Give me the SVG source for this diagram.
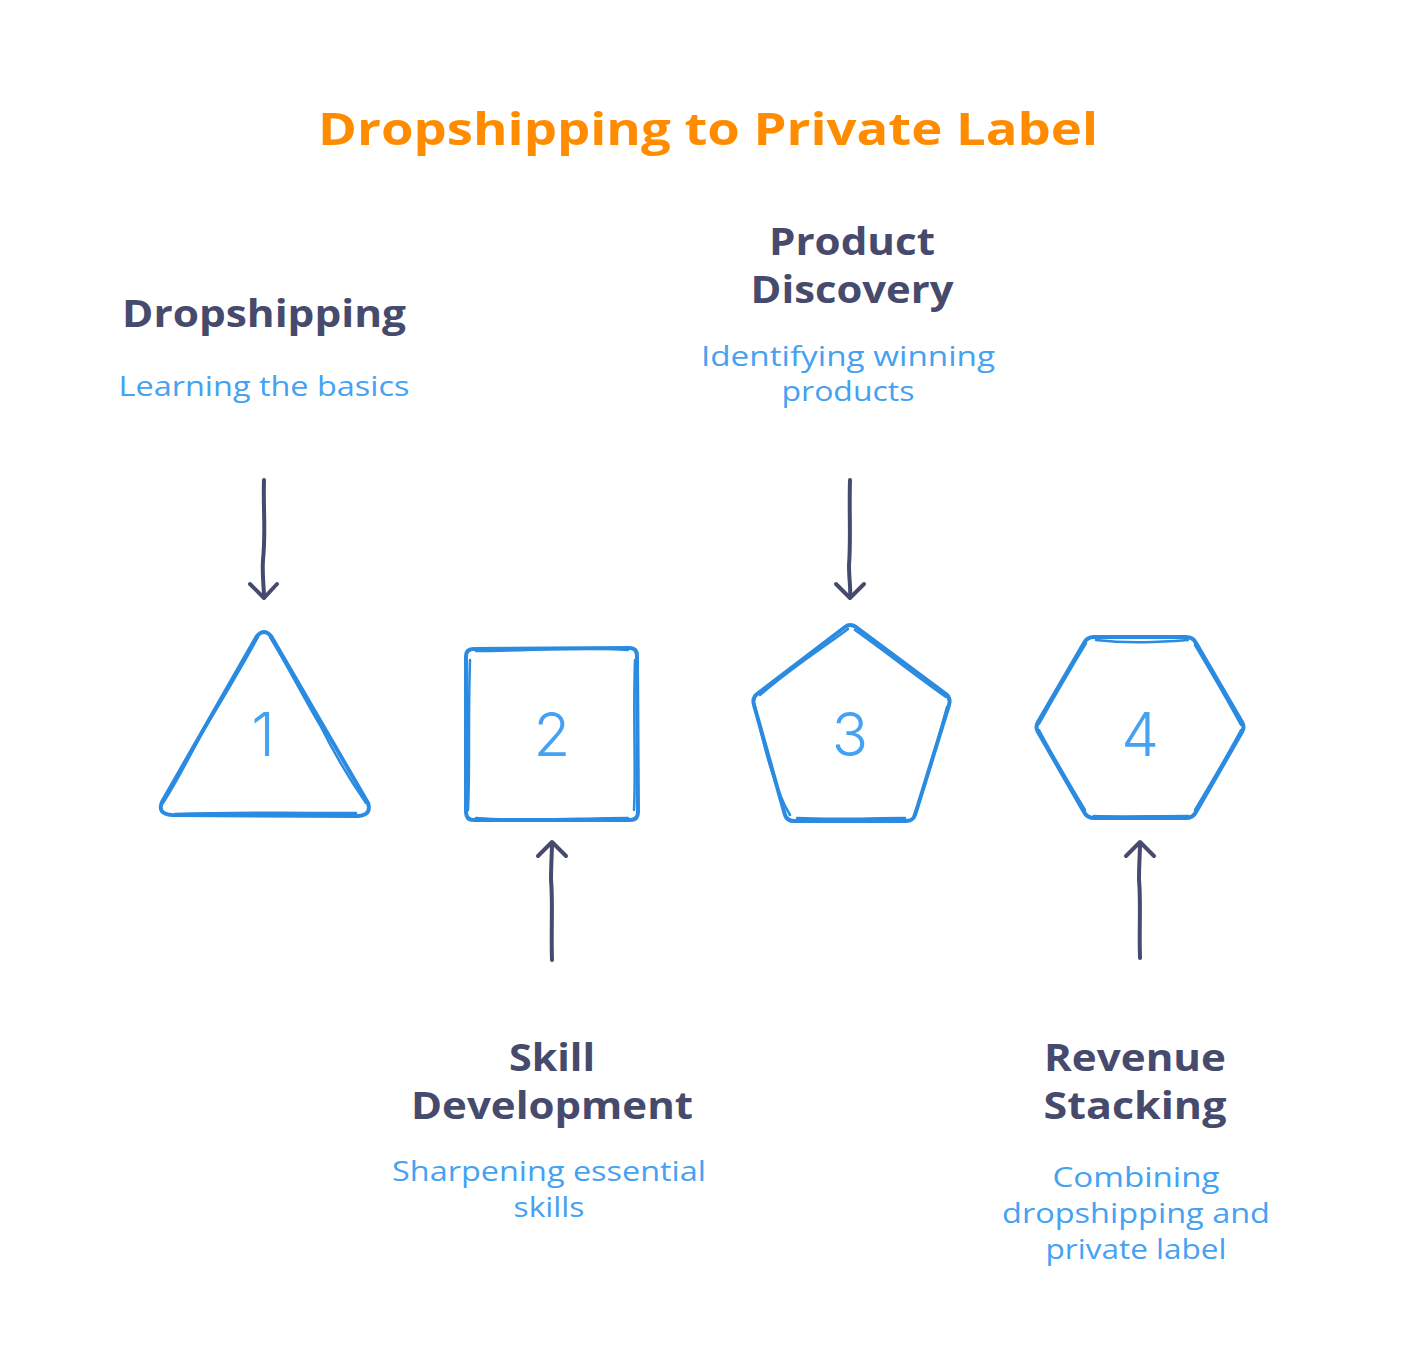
<svg xmlns="http://www.w3.org/2000/svg" width="1416" height="1368" viewBox="0 0 1416 1368">
<defs>
<style>
.title{font-family:"Open Sans","Liberation Sans",sans-serif;font-weight:700;font-size:44px;fill:#FF8C00;text-anchor:middle}
.head{font-family:"Open Sans","Liberation Sans",sans-serif;font-weight:700;font-size:37px;fill:#464A6C;text-anchor:middle}
.desc{font-family:"Open Sans","Liberation Sans",sans-serif;font-weight:400;font-size:28px;fill:#45A1F1;text-anchor:middle}
.num{font-family:"Inter","Open Sans",sans-serif;font-weight:300;font-size:60px;fill:#45A1F1;text-anchor:middle}
.shape{fill:none;stroke:#2A8BE0;stroke-width:4;stroke-linejoin:round;stroke-linecap:round}
.shape2{fill:none;stroke:#2A8BE0;stroke-width:2.5;stroke-linejoin:round;stroke-linecap:round}
.arrow{fill:none;stroke:#464A6C;stroke-width:4;stroke-linecap:round;stroke-linejoin:round}
</style>
</defs>
<rect width="1416" height="1368" fill="#ffffff"/>
<text class="title" x="708" y="145" textLength="780" lengthAdjust="spacingAndGlyphs">Dropshipping to Private Label</text>

<g id="connectors">
<path class="arrow" d="M264,480 C263,510 266,530 263,560 C262,575 264,588 264,597"/>
<path class="arrow" d="M250,584 L264,598 L277,584"/>
<path class="arrow" d="M850,480 C849,510 851,540 849,565 C849,580 851,590 850,597"/>
<path class="arrow" d="M836,584 L850,598 L864,584"/>
<path class="arrow" d="M552,960 C551,930 553,900 551,880 C551,865 552,852 552,843"/>
<path class="arrow" d="M538,856 L552,842 L566,856"/>
<path class="arrow" d="M1140,958 C1139,930 1141,900 1139,880 C1139,865 1140,852 1140,843"/>
<path class="arrow" d="M1126,856 L1140,842 L1154,856"/>
</g>

<g id="node1">
<path class="shape" d="M257,636 Q264,628 271,636 L368,803 Q372,815 358,816 L172,815 Q157,814 162,802 Z"/>
<path class="shape2" d="M258,637 C240,670 225,695 205,728 C190,755 178,780 163,803 M270,637 C290,670 305,700 320,725 C335,755 350,780 366,803 M175,814 C240,812 300,813 356,813"/>
<text class="num" x="263" y="756">1</text>
<text class="head" x="264" y="327" textLength="284" lengthAdjust="spacingAndGlyphs">Dropshipping</text>
<text class="desc" x="264" y="396" textLength="291" lengthAdjust="spacingAndGlyphs">Learning the basics</text>
</g>

<g id="node2">
<path class="shape" d="M474,649 L630,648 Q637,648 637,656 L638,812 Q638,820 630,820 L474,820 Q466,820 466,812 L466,656 Q466,649 474,649 Z"/>
<path class="shape2" d="M476,651 C530,651 580,646 628,650 M635,660 C633,720 636,770 634,810 M470,660 C468,720 470,770 468,810 M476,818 C530,822 580,818 628,818"/>
<text class="num" x="552" y="756">2</text>
<text class="head" x="552" y="1071" textLength="86" lengthAdjust="spacingAndGlyphs">Skill</text>
<text class="head" x="552" y="1119" textLength="282" lengthAdjust="spacingAndGlyphs">Development</text>
<text class="desc" x="549" y="1181" textLength="314" lengthAdjust="spacingAndGlyphs">Sharpening essential</text>
<text class="desc" x="549" y="1217" textLength="71" lengthAdjust="spacingAndGlyphs">skills</text>
</g>

<g id="node3">
<path class="shape" d="M845,627 Q850,623 856,627 L946,694 Q951,698 949,705 L915,815 Q913,821 906,821 L794,821 Q787,821 785,815 L754,705 Q752,698 757,694 Z"/>
<path class="shape2" d="M848,629 C820,650 795,665 760,695 M855,630 C890,655 915,675 946,697 M755,707 C765,750 775,790 790,815 M947,707 C935,750 925,790 914,815 M797,818 C835,820 870,818 905,818"/>
<text class="num" x="850" y="756">3</text>
<text class="head" x="852" y="255" textLength="166" lengthAdjust="spacingAndGlyphs">Product</text>
<text class="head" x="852" y="303" textLength="203" lengthAdjust="spacingAndGlyphs">Discovery</text>
<text class="desc" x="848" y="366" textLength="294" lengthAdjust="spacingAndGlyphs">Identifying winning</text>
<text class="desc" x="848" y="401" textLength="133" lengthAdjust="spacingAndGlyphs">products</text>
</g>

<g id="node4">
<path class="shape" d="M1094,637 L1186,637 Q1193,637 1196,643 L1242,722 Q1245,727 1242,732 L1196,812 Q1193,818 1186,818 L1094,818 Q1087,818 1084,812 L1038,732 Q1035,727 1038,722 L1084,643 Q1087,637 1094,637 Z"/>
<path class="shape2" d="M1096,640 C1130,644 1160,642 1188,640 M1195,645 C1210,670 1225,695 1241,725 M1241,730 C1225,760 1210,785 1195,810 M1188,816 C1150,816 1120,817 1094,816 M1085,810 C1070,785 1055,760 1039,730 M1039,724 C1055,695 1070,670 1086,643"/>
<text class="num" x="1140" y="756">4</text>
<text class="head" x="1135" y="1071" textLength="182" lengthAdjust="spacingAndGlyphs">Revenue</text>
<text class="head" x="1135" y="1119" textLength="183" lengthAdjust="spacingAndGlyphs">Stacking</text>
<text class="desc" x="1136" y="1187" textLength="167" lengthAdjust="spacingAndGlyphs">Combining</text>
<text class="desc" x="1136" y="1223" textLength="268" lengthAdjust="spacingAndGlyphs">dropshipping and</text>
<text class="desc" x="1136" y="1259" textLength="181" lengthAdjust="spacingAndGlyphs">private label</text>
</g>
</svg>
